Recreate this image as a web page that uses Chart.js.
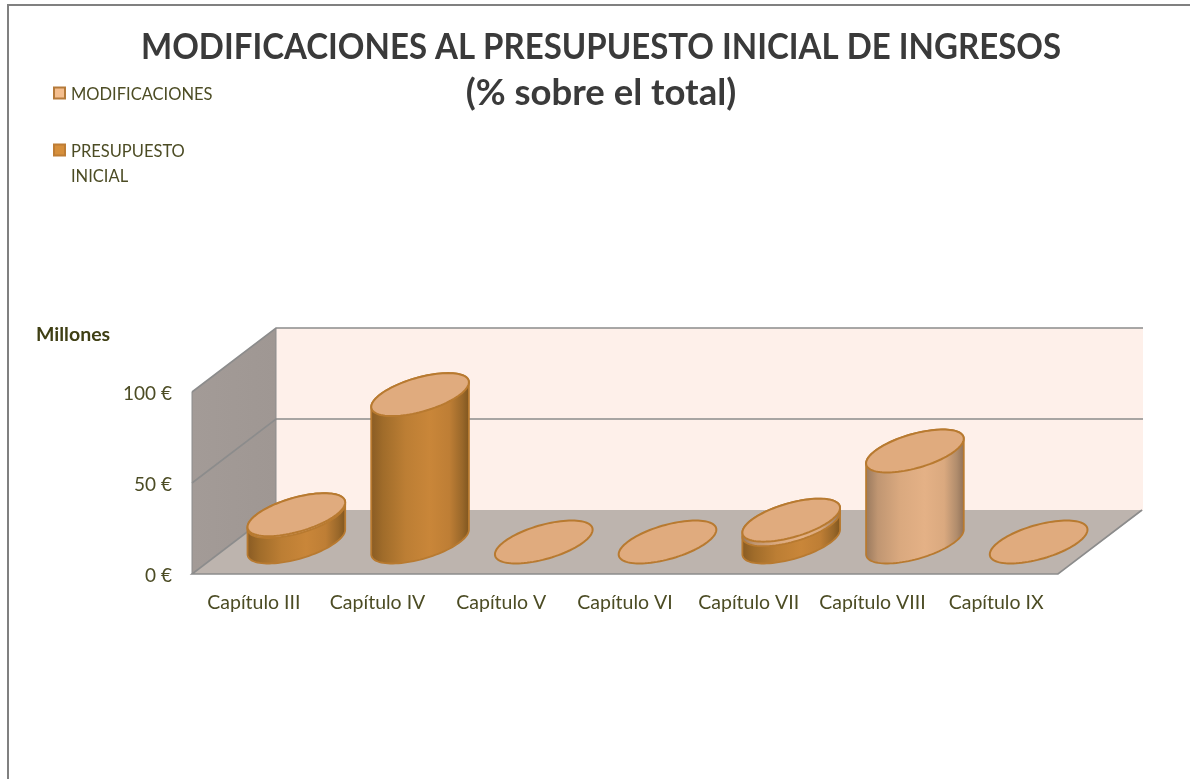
<!DOCTYPE html>
<html><head><meta charset="utf-8">
<style>html,body{margin:0;padding:0;background:#fff}canvas{display:block}</style>
<script src="https://cdn.jsdelivr.net/npm/chart.js@4"></script>
</head><body><canvas id="c" width="1190" height="779"></canvas>
<script>
const categories = ['Capítulo III','Capítulo IV','Capítulo V','Capítulo VI','Capítulo VII','Capítulo VIII','Capítulo IX'];
const presupuestoInicial = [14, 81, 0, 0, 9.5, 0, 0];
const modificaciones = [1, 0, 0, 0, 2.5, 50, 0];
const titleLines = ['MODIFICACIONES AL PRESUPUESTO INICIAL DE INGRESOS','(% sobre el total)'];
const unitLabel = 'Millones';
const legendEntries = [
  {lines:['MODIFICACIONES'], fill:'#F4BE8E', stroke:'#B57A3A'},
  {lines:['PRESUPUESTO','INICIAL'], fill:'#D68F3C', stroke:'#BE7D35'}
];
const TXT = '#4C4C24', FONT = 'Lato, Carlito, sans-serif';
const DX = 84, DY = 64;              // depth of the 3D box
const skewX = 28, radY = 21.5;       // elliptical base of the cylinders

function ellipsePoint(cx, cy, a, t){
  return [cx + a*Math.cos(t) + skewX*Math.sin(t), cy - radY*Math.sin(t)];
}
function ellipsePath(ctx, cx, cy, a){
  ctx.beginPath();
  for(let i=0;i<=96;i++){
    const p = ellipsePoint(cx, cy, a, i/96*2*Math.PI);
    i?ctx.lineTo(p[0],p[1]):ctx.moveTo(p[0],p[1]);
  }
  ctx.closePath();
}
function cylinderBody(ctx, cx, yBase, yTop, a, stops){
  const t0 = Math.atan2(skewX, a);
  const hw = Math.hypot(a, skewX);
  ctx.beginPath();
  for(let i=0;i<=48;i++){
    const p = ellipsePoint(cx, yBase, a, t0 + Math.PI + i/48*Math.PI);
    i?ctx.lineTo(p[0],p[1]):ctx.moveTo(p[0],p[1]);
  }
  for(let i=0;i<=48;i++){
    const p = ellipsePoint(cx, yTop, a, t0 + i/48*Math.PI);
    ctx.lineTo(p[0],p[1]);
  }
  ctx.closePath();
  const g = ctx.createLinearGradient(cx-hw,0,cx+hw,0);
  stops.forEach(s=>g.addColorStop(s[0],s[1]));
  ctx.fillStyle = g; ctx.fill();
  ctx.strokeStyle = '#B87A30'; ctx.lineWidth = 1.8; ctx.stroke();
}
const presStops = [[0,'#8A5C24'],[.12,'#A06C2A'],[.35,'#BC7E34'],[.6,'#C98639'],[.8,'#BE7E35'],[.93,'#9A682A'],[1,'#80561F']];
const modStops  = [[0,'#9A7A5E'],[.12,'#C09672'],[.35,'#DAA97F'],[.6,'#E4B186'],[.8,'#DAA97F'],[.93,'#B08C6C'],[1,'#927259']];

const scene = {
  id:'scene',
  afterLayout(chart){
    // the first title line is set condensed, 920px wide around x=601
    const t = chart.titleBlock;
    t.left = 141; t.right = 1061; t.width = 920;
  },
  beforeDatasetsDraw(chart){
    const ctx = chart.ctx, {left,right} = chart.chartArea, y = chart.scales.y;
    const y0 = y.getPixelForValue(0), yT = y.getPixelForValue(100);
    ctx.save();
    ctx.fillStyle='#FEF0EA';
    ctx.fillRect(left+DX, yT-DY, right-left+1, y0-yT);
    const g = ctx.createLinearGradient(left,0,left+DX,0);
    g.addColorStop(0,'#A39B97'); g.addColorStop(1,'#9F9793');
    ctx.fillStyle=g; ctx.beginPath();
    ctx.moveTo(left,yT); ctx.lineTo(left+DX,yT-DY); ctx.lineTo(left+DX,y0-DY); ctx.lineTo(left,y0); ctx.closePath(); ctx.fill();
    ctx.fillStyle='#BDB4AE'; ctx.beginPath();
    ctx.moveTo(left,y0); ctx.lineTo(left+DX,y0-DY); ctx.lineTo(right+DX+1,y0-DY); ctx.lineTo(right,y0); ctx.closePath(); ctx.fill();
    ctx.strokeStyle='#8C8C8C'; ctx.lineWidth=1.6;
    y.ticks.forEach(t=>{
      const py = y.getPixelForValue(t.value);
      ctx.beginPath();
      if(t.value===0){
        ctx.moveTo(left+DX,py-DY); ctx.lineTo(left,py); ctx.lineTo(right,py); ctx.lineTo(right+DX,py-DY);
      } else {
        ctx.moveTo(left,py); ctx.lineTo(left+DX,py-DY); ctx.lineTo(right+DX+1,py-DY);
      }
      ctx.stroke();
    });
    ctx.beginPath(); ctx.moveTo(left,yT); ctx.lineTo(left,y0); ctx.moveTo(left+DX,yT-DY); ctx.lineTo(left+DX,y0-DY); ctx.lineWidth=1; ctx.stroke();
    ctx.restore();
  },
  beforeDatasetDraw(){ return false; },
  afterDatasetsDraw(chart){
    const ctx = chart.ctx;
    const pres = chart.getDatasetMeta(0).data, mods = chart.getDatasetMeta(1).data;
    ctx.save();
    categories.forEach((c,i)=>{
      const p = pres[i], m = mods[i];
      const cx = p.x + DX/2 + 0.5, a = p.width/2;
      const yb = p.base - DY/2, yp = p.y - DY/2, ym = m.y - DY/2;
      if(presupuestoInicial[i]>0) cylinderBody(ctx,cx,yb,yp,a,presStops);
      if(modificaciones[i]>0) cylinderBody(ctx,cx,yp,ym,a,modStops);
      ellipsePath(ctx,cx,ym,a);
      ctx.fillStyle='#E0AB7E'; ctx.fill();
      ctx.strokeStyle='#B87A30'; ctx.lineWidth=2; ctx.stroke();
    });
    ctx.restore();
  },
  afterDraw(chart){
    const ctx = chart.ctx;
    ctx.save();
    ctx.strokeStyle='#808080'; ctx.lineWidth=2;
    ctx.beginPath(); ctx.moveTo(8,780); ctx.lineTo(8,5); ctx.lineTo(1191,5); ctx.stroke();
    ctx.fillStyle='#3F3F14'; ctx.font='bold 19.5px '+FONT; ctx.textAlign='left'; ctx.textBaseline='middle';
    ctx.fillText(unitLabel,36,335);
    const rows=[93,150];
    legendEntries.forEach((e,i)=>{
      const y=rows[i];
      ctx.fillStyle=e.fill; ctx.strokeStyle=e.stroke; ctx.lineWidth=2;
      ctx.fillRect(54,y-5.5,11,11); ctx.strokeRect(54,y-5.5,11,11);
      ctx.fillStyle=TXT; ctx.font='16.5px '+FONT; ctx.textBaseline='middle';
      e.lines.forEach((l,j)=>ctx.fillText(l,71,y+1.5+j*25));
    });
    ctx.restore();
  }
};

new Chart(document.getElementById('c'),{
  type:'bar',
  data:{labels:categories,datasets:[
    {label:'PRESUPUESTO INICIAL',data:presupuestoInicial,backgroundColor:'#D68F3C',stack:'a',yAxisID:'y'},
    {label:'MODIFICACIONES',data:modificaciones,backgroundColor:'#F4BE8E',stack:'a',yAxisID:'y'}
  ]},
  options:{
    responsive:false,animation:false,
    layout:{padding:{left:12,right:0,top:0,bottom:0}},
    categoryPercentage:1,barPercentage:0.647,
    plugins:{
      legend:{display:false},tooltip:{enabled:false},
      title:{display:true,text:titleLines,color:'#3A3A3A',fullSize:true,
        font:{family:FONT,size:36.5,weight:'bold',lineHeight:46/36.5},padding:{top:24.5,bottom:275.5}}
    },
    scales:{
      x:{stacked:true,grid:{display:false},border:{display:false},
        ticks:{color:TXT,font:{family:FONT,size:19.5},padding:9,maxRotation:0,autoSkip:false},
        afterFit(s){s.height=779-574;}},
      y:{stacked:true,min:0,max:100,grid:{display:false,drawTicks:false},border:{display:false},
        ticks:{stepSize:50,color:TXT,font:{family:FONT,size:19},padding:20,labelOffset:2,callback:v=>v+' €'},
        afterFit(s){s.width=180;}},
      spacer:{position:'right',min:0,max:1,grid:{display:false,drawTicks:false},border:{display:false},
        ticks:{display:false},afterFit(s){s.width=132;}}
    }
  },
  plugins:[scene]
});
</script></body></html>
